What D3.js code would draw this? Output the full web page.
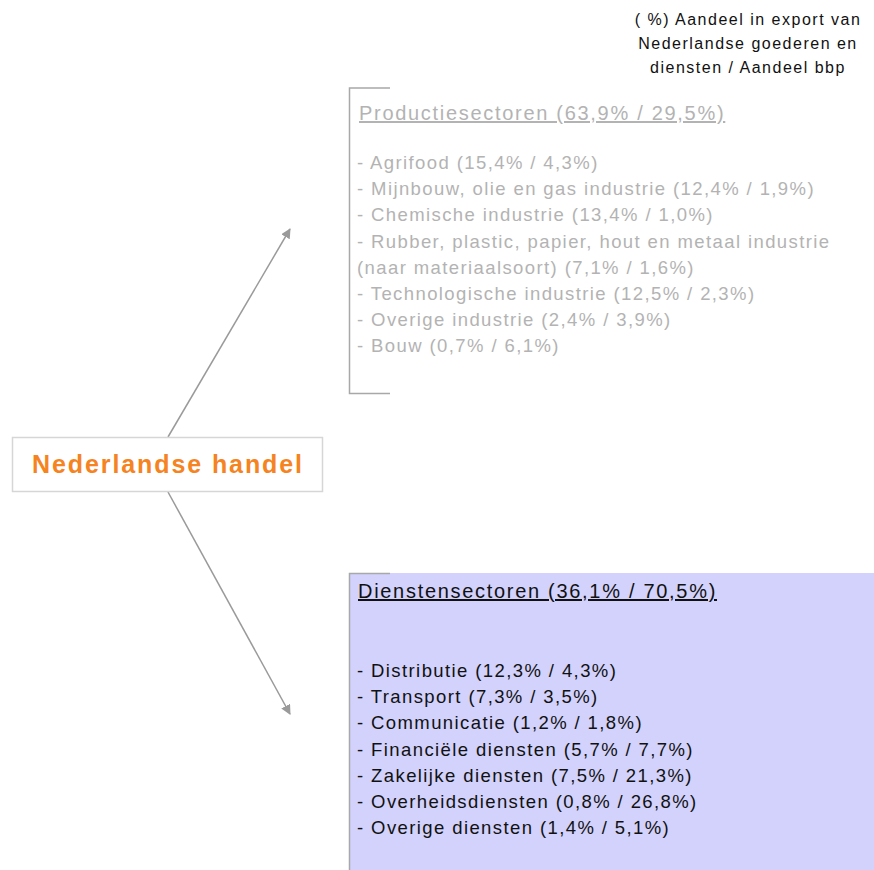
<!DOCTYPE html>
<meta charset="utf-8">
<head>
  <style>
    body { margin: 0; background: #fff; }
    svg text { font-family: "Liberation Sans", Arial, sans-serif; }
    .note { font-size: 16px; fill: #111; letter-spacing: 1.5px; }
    .head { font-size: 20px; text-decoration: underline; letter-spacing: 1.7px; }
    .item { font-size: 18.5px; letter-spacing: 1.4px; }
    .prod { fill: #b3b3b3; }
    .dienst { fill: #111; }
    .center { font-size: 25px; font-weight: bold; fill: #f5831f; letter-spacing: 1.9px; }
  </style>
</head>
<body>
  <script src="https://d3js.org/d3.v7.min.js"></script>
  <script>
    // sector lists: label, share of export / share of GDP (percent)
    var noteLines = ["(  %) Aandeel in export van", "Nederlandse goederen en", "diensten / Aandeel bbp"];

    var prodTitle = "Productiesectoren";
    var prodTotal = [63.9, 29.5];
    var prodLabels = ["Agrifood", "Mijnbouw, olie en gas industrie", "Chemische industrie",
                      "Rubber, plastic, papier, hout en metaal industrie|(naar materiaalsoort)",
                      "Technologische industrie", "Overige industrie", "Bouw"];
    var prodExport = [15.4, 12.4, 13.4, 7.1, 12.5, 2.4, 0.7];
    var prodGdp    = [4.3, 1.9, 1.0, 1.6, 2.3, 3.9, 6.1];

    var dienstTitle = "Dienstensectoren";
    var dienstTotal = [36.1, 70.5];
    var dienstLabels = ["Distributie", "Transport", "Communicatie", "Financiële diensten",
                        "Zakelijke diensten", "Overheidsdiensten", "Overige diensten"];
    var dienstExport = [12.3, 7.3, 1.2, 5.7, 7.5, 0.8, 1.4];
    var dienstGdp    = [4.3, 3.5, 1.8, 7.7, 21.3, 26.8, 5.1];

    var centerLabel = "Nederlandse handel";

    var width = 874, height = 870;
    var fmt = function(v) { return d3.format(".1f")(v).replace(".", ",") + "%"; };
    var pair = function(a, b) { return "(" + fmt(a) + " / " + fmt(b) + ")"; };

    var svg = d3.select("body").append("svg")
        .attr("width", width)
        .attr("height", height);

    svg.append("defs").append("marker")
        .attr("id", "head")
        .attr("viewBox", "0 0 10 10")
        .attr("refX", 9).attr("refY", 5)
        .attr("markerWidth", 10).attr("markerHeight", 10)
        .attr("markerUnits", "userSpaceOnUse")
        .attr("orient", "auto")
      .append("path")
        .attr("d", "M0,0 L10,5 L0,10 Z")
        .attr("fill", "#9a9a9a");

    // explanatory note top right
    svg.append("g").selectAll("text")
        .data(noteLines)
      .enter().append("text")
        .attr("class", "note")
        .attr("x", 748)
        .attr("y", function(d, i) { return 25 + i * 24; })
        .attr("text-anchor", "middle")
        .text(function(d) { return d; });

    // line scale: row index -> baseline
    function rowScale(top) {
      return d3.scaleLinear().domain([0, 1]).range([top, top + 26.2]);
    }

    // productie block (bracket, no fill)
    var prod = svg.append("g");
    prod.append("path")
        .attr("d", "M390,88 H349.5 V393.5 H390")
        .attr("fill", "none")
        .attr("stroke", "#a8a8a8")
        .attr("stroke-width", 1.5);
    prod.append("text")
        .attr("class", "head prod")
        .attr("x", 359).attr("y", 120)
        .text(prodTitle + " " + pair(prodTotal[0], prodTotal[1]));

    var prodRows = [];
    prodLabels.forEach(function(l, i) {
      var parts = l.split("|");
      if (parts.length > 1) {
        prodRows.push("- " + parts[0]);
        prodRows.push(parts[1] + " " + pair(prodExport[i], prodGdp[i]));
      } else {
        prodRows.push("- " + l + " " + pair(prodExport[i], prodGdp[i]));
      }
    });
    var yp = rowScale(169);
    prod.selectAll(".item")
        .data(prodRows)
      .enter().append("text")
        .attr("class", "item prod")
        .attr("x", 357)
        .attr("y", function(d, i) { return yp(i); })
        .text(function(d) { return d; });

    // diensten block (filled)
    var dienst = svg.append("g");
    dienst.append("rect")
        .attr("x", 350).attr("y", 573)
        .attr("width", width - 350).attr("height", height - 573)
        .attr("fill", "#d2d2fc");
    dienst.append("path")
        .attr("d", "M390,573.5 H349.5 V870")
        .attr("fill", "none")
        .attr("stroke", "#a8a8a8")
        .attr("stroke-width", 1.5);
    dienst.append("text")
        .attr("class", "head dienst")
        .attr("x", 358).attr("y", 598)
        .text(dienstTitle + " " + pair(dienstTotal[0], dienstTotal[1]));

    var yd = rowScale(677);
    dienst.selectAll(".item")
        .data(dienstLabels)
      .enter().append("text")
        .attr("class", "item dienst")
        .attr("x", 357)
        .attr("y", function(d, i) { return yd(i); })
        .text(function(d, i) { return "- " + d + " " + pair(dienstExport[i], dienstGdp[i]); });

    // arrows
    var arrows = [[168, 437, 290, 229], [168, 492, 290, 714]];
    svg.append("g").selectAll("line")
        .data(arrows)
      .enter().append("line")
        .attr("x1", function(d) { return d[0]; })
        .attr("y1", function(d) { return d[1]; })
        .attr("x2", function(d) { return d[2]; })
        .attr("y2", function(d) { return d[3]; })
        .attr("stroke", "#9a9a9a")
        .attr("stroke-width", 1.5)
        .attr("marker-end", "url(#head)");

    // central box
    svg.append("rect")
        .attr("x", 12.5).attr("y", 437.5)
        .attr("width", 310).attr("height", 54)
        .attr("fill", "#fff")
        .attr("stroke", "#d6d6d6")
        .attr("stroke-width", 1.5);
    svg.append("text")
        .attr("class", "center")
        .attr("x", 168).attr("y", 473)
        .attr("text-anchor", "middle")
        .text(centerLabel);
  </script>
</body>
